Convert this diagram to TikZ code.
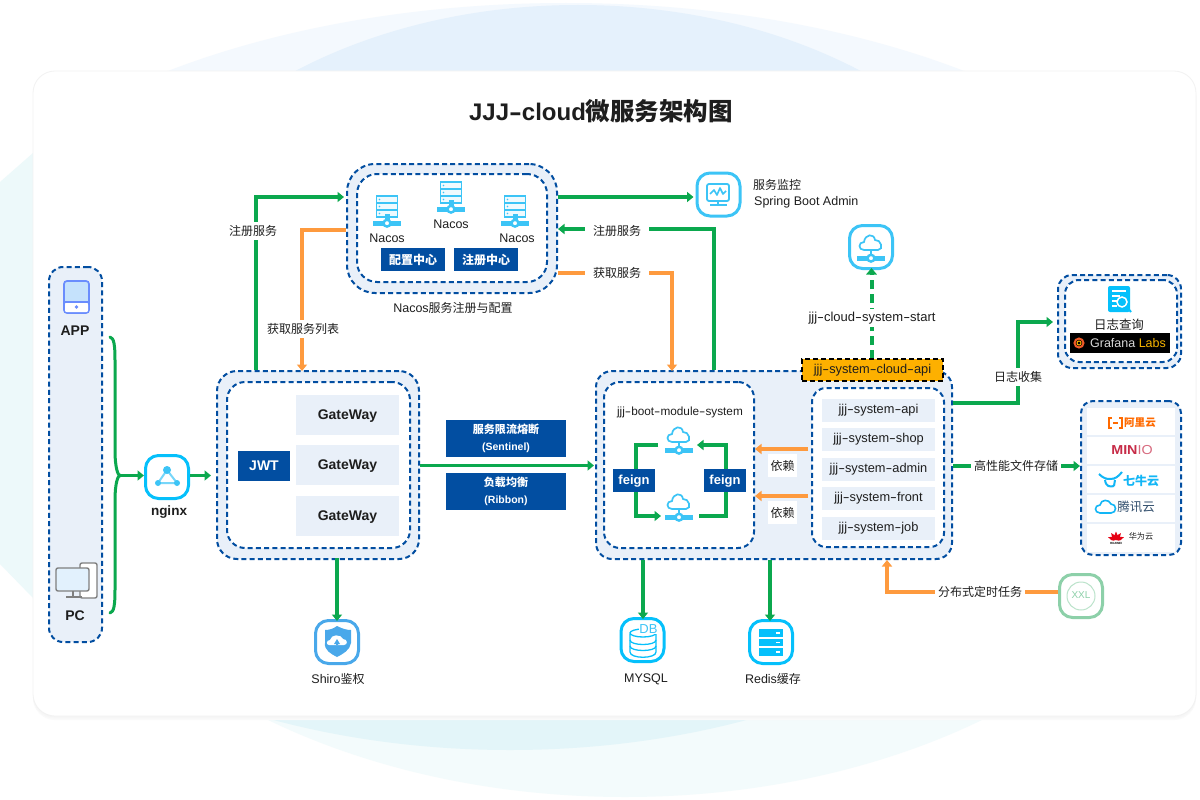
\documentclass[tikz,border=0pt]{standalone}
\usepackage{fontspec}
\setmainfont{Liberation Sans}
\newfontfamily\cjk[Scale=0.96]{Noto Sans CJK SC}
\usetikzlibrary{arrows.meta,calc}
\definecolor{dashblue}{HTML}{024EA1}
\definecolor{panelbg}{HTML}{E9F0F9}
\definecolor{flowgreen}{HTML}{0BA84E}
\definecolor{floworange}{HTML}{FE9A3E}
\definecolor{iconblue}{HTML}{3CC4F6}
\definecolor{iconcyan}{HTML}{05C0FB}
\definecolor{inktext}{HTML}{1E1E1E}
\definecolor{xxlgreen}{HTML}{8DD0A9}
\definecolor{bgleft}{HTML}{EDF9FA}
\definecolor{bgtopA}{HTML}{F4F9FE}
\definecolor{bgtopB}{HTML}{E5F1FC}
\definecolor{bgbotA}{HTML}{F3FBFC}
\definecolor{bgbotB}{HTML}{E3F5F9}
\definecolor{shieldblue}{HTML}{49A8EA}
\definecolor{aliorange}{HTML}{FF6A00}
\definecolor{minired}{HTML}{C72C48}
\definecolor{qiniublue}{HTML}{12B6F6}
\definecolor{txgray}{HTML}{33506E}
\definecolor{hwred}{HTML}{E60012}
\definecolor{tabletline}{HTML}{6A8DFD}
\definecolor{tabletfill}{HTML}{C5E2FC}
\definecolor{pcgray}{HTML}{7F7F7F}
\definecolor{pcfill}{HTML}{E2F1FD}
\definecolor{tagfill}{HTML}{FDB000}
\definecolor{labsgold}{HTML}{F7B500}
\definecolor{gforange}{HTML}{F05A28}
\newcommand{\hy}{\scalebox{1.6}[1]{-}}
\newcommand{\sz}[1]{\fontsize{#1}{#1}\selectfont}
% name, x1,y1,x2,y2, style, text
\newcommand{\bx}[7]{%
  \pgfmathsetmacro{\bxw}{#4-#2}\pgfmathsetmacro{\bxh}{#5-#3}%
  \pgfmathsetmacro{\bxx}{(#2+#4)/2}\pgfmathsetmacro{\bxy}{(#3+#5)/2}%
  \node[#6,minimum width=\bxw pt,minimum height=\bxh pt] (#1) at (\bxx,\bxy) {#7};}
\newcommand{\cloudnet}[2]{\begin{scope}[shift={(#1,#2)}]
  \draw[iconblue,line width=1.7pt,fill=white] (-7,7) .. controls (-13,7) and (-13,-1) .. (-7,-1) .. controls (-6,-9) and (3,-10) .. (4,-3) .. controls (10,-4) and (13,7) .. (7,7) -- cycle;
  \draw[iconblue,line width=1.7pt] (0,7) -- (0,14);
  \fill[iconblue] (-14,13) rectangle (14,17.5);
  \draw[iconblue,line width=2.4pt,fill=white] (0,15.2) circle[radius=3.4pt];
\end{scope}}
\newcommand{\rack}[2]{\begin{scope}[shift={(#1,#2)}]
  \foreach \r in {0,7,14}{\draw[iconblue,line width=1.2pt,fill=iconblue!8] (-10.5,\r) rectangle (10.5,\r+7);
    \fill[iconblue] (-7.5,\r+3.5) circle[radius=.8pt];}
  \fill[iconblue] (-2.5,18) rectangle (2.5,24);
  \fill[iconblue] (-14,25) rectangle (14,29.5);
  \draw[iconblue,line width=2.4pt,fill=white] (0,27.2) circle[radius=3.4pt];
\end{scope}}
\tikzset{
  x=1pt,y=-1pt,
  panelbox/.style={draw=dashblue,line width=2pt,dash pattern=on 5pt off 3.2pt,fill=panelbg,inner sep=0pt,rounded corners=#1},
  innerbox/.style={panelbox=#1,fill=white},
  lightbox/.style={fill=panelbg,inner sep=0pt,text=inktext,font=\sz{12.8}},
  gatebox/.style={lightbox,font=\bfseries\sz{14},text height=9pt,text depth=0pt},
  feignbox/.style={bluebox,font=\bfseries\sz{13},text height=7pt,text depth=0pt},
  bluebox/.style={fill=dashblue,inner sep=0pt,text=white,font=\bfseries\sz{13}},
  whitebox/.style={fill=white,inner sep=0pt,text=inktext,font=\sz{12.5}},
  iconbox/.style={draw=#1,line width=3pt,rounded corners=13pt,fill=white,inner sep=0pt,minimum size=43pt},
  txt/.style={inner sep=0pt,text=inktext,font=\sz{12.5}},
  lab/.style={fill=white,inner sep=3pt,text=inktext,font=\sz{12.5}},
  garrow/.style={draw=flowgreen,line width=3.8pt,-{Triangle[length=6.5pt,width=10pt]}},
  oarrow/.style={draw=floworange,line width=3.8pt,-{Triangle[length=6.5pt,width=10pt]}},
  thinG/.style={draw=flowgreen,line width=3pt},
  thinGA/.style={draw=flowgreen,line width=3.5pt,-{Triangle[length=6.5pt,width=10pt]}},
  thinOA/.style={draw=floworange,line width=3.5pt,-{Triangle[length=6.5pt,width=10pt]}},
}
\begin{document}
\begin{tikzpicture}
\useasboundingbox (0,0) rectangle (1200,800);
\fill[white] (0,0) rectangle (1200,800);
% background shapes
\fill[bgleft] (0,182) -- (33,153) -- (33,598) -- (0,564) -- cycle;
\begin{scope}
  \clip (0,0) rectangle (1200,80);
  \fill[bgtopA] (566,330) ellipse[x radius=652pt,y radius=327pt];
  \fill[bgtopB] (578,330) ellipse[x radius=468pt,y radius=325pt];
\end{scope}
\begin{scope}
  \clip (0,700) rectangle (1200,800);
  \fill[bgbotA] (625,400) ellipse[x radius=603pt,y radius=397pt];
  \fill[bgbotB] (510,400) ellipse[x radius=583pt,y radius=350pt];
\end{scope}
% card
\foreach \o/\c in {4/2,2.5/3,1/4}{\fill[black!\c,rounded corners=22pt] (33,71+\o) rectangle (1196,716+\o);}
\fill[white,draw=black!5,line width=.8pt,rounded corners=22pt] (33,71) rectangle (1196,716);
\node[txt,font=\bfseries\sz{24}] (title) at (601,111) {JJJ\hy cloud{\cjk\sz{25.5}微服务架构图}};

% panels
\bx{client}{49}{267}{102}{642}{panelbox=14pt}{}
\bx{gwO}{217}{371}{419}{559}{panelbox=20pt}{}
\bx{gwI}{227}{382}{410}{548}{innerbox=18pt}{}
\bx{nacosO}{347}{164}{557}{293}{panelbox=28pt}{}
\bx{nacosI}{357}{174}{547}{282}{innerbox=20pt}{}
\bx{svcO}{596}{371}{952}{559}{panelbox=16pt}{}
\bx{bootI}{604}{382}{754}{548}{innerbox=16pt}{}
\bx{apiI}{812}{388}{944}{547}{innerbox=14pt}{}
\bx{logO}{1058}{275}{1181}{368}{panelbox=14pt}{}
\bx{logI}{1065}{280}{1177}{362}{innerbox=14pt}{}
\bx{storeO}{1081}{401}{1181}{555}{panelbox=12pt}{}

% guide coordinates for connector positions
\coordinate (vReg) at (256,0);
\coordinate (hReg) at (0,197);
\coordinate (vGet) at (302,0);
\coordinate (hGet) at (0,230);
\coordinate (hMon) at (0,197);
\coordinate (vSvcReg) at (714,0);
\coordinate (hSvcReg) at (0,229);
\coordinate (vSvcGet) at (672,0);
\coordinate (hSvcGet) at (0,273);
\coordinate (hMain) at (0,465.5);
\coordinate (vMysql) at (643,0);
\coordinate (vRedis) at (770,0);
\coordinate (vShiro) at (337,0);
\coordinate (vJob) at (887,0);
\coordinate (hJob) at (0,592);
\coordinate (hLogS) at (0,403);
\coordinate (vLogM) at (1018,0);
\coordinate (hLogE) at (0,322);
\coordinate (hStore) at (0,466);
\coordinate (vStart) at (871.5,0);
\coordinate (hNg) at (0,475.5);
\coordinate (appEnd) at (110,337);
\coordinate (pcEnd) at (110,613);
\coordinate (joint) at (120,475.5);

% icon boxes
\node[iconbox=iconcyan] (nginx) at (167,477) {};
\node[iconbox=iconblue] (monitor) at (718.5,194.5) {};
\node[iconbox=iconblue] (startbox) at (871,247) {};
\node[iconbox=shieldblue] (shiro) at (337,642) {};
\node[iconbox=iconcyan] (mysql) at (642.5,640) {};
\node[iconbox=iconcyan] (redis) at (771,642) {};
\node[iconbox=xxlgreen] (xxl) at (1081,596) {};

% connectors
\draw[thinG,line cap=round] (appEnd) .. controls (114,338) and (115,345) .. (115,360) -- (115,450) .. controls (115,468) and (118,475.5) .. (joint);
\draw[thinG,line cap=round] (pcEnd) .. controls (114,612) and (115,605) .. (115,590) -- (115,500) .. controls (115,483) and (118,475.5) .. (joint);
\draw[garrow] (joint) -- (nginx.west |- hNg);
\draw[garrow] (nginx.east |- hNg) -- ([xshift=-5pt]gwO.west |- hNg);
\draw[garrow] (vReg |- gwO.north) |- ([xshift=-2pt]nacosO.west |- hReg);
\draw[oarrow] (nacosO.west |- hGet) -| ([yshift=-1pt]vGet |- gwO.north);
\draw[garrow] (nacosO.east |- hMon) -- ([xshift=-2pt]monitor.west |- hMon);
\draw[garrow] (vSvcReg |- svcO.north) |- (nacosO.east |- hSvcReg);
\draw[oarrow] (nacosO.east |- hSvcGet) -| ([yshift=-1pt]vSvcGet |- svcO.north);
\draw[garrow] (gwO.east |- hMain) -- ([xshift=-1pt]svcO.west |- hMain);
\draw[garrow] ([yshift=2pt]vShiro |- gwO.south) -- ([yshift=-2pt]vShiro |- shiro.north);
\draw[garrow] (vMysql |- svcO.south) -- ([yshift=-2pt]vMysql |- mysql.north);
\draw[garrow] (vRedis |- svcO.south) -- ([yshift=-2pt]vRedis |- redis.north);
\draw[oarrow] (xxl.west |- hJob) -| (vJob |- svcO.south);
\draw[garrow] (svcO.east |- hLogS) -| (vLogM |- hLogE) -- ([xshift=-4pt]logO.west |- hLogE);
\draw[garrow] (svcO.east |- hStore) -- (storeO.west |- hStore);
\draw[draw=flowgreen,line width=4pt,dash pattern=on 9pt off 5pt,-{Triangle[length=6.5pt,width=10.5pt]}] (vStart |- 0,359) -- ([yshift=2pt]vStart |- startbox.south);
\coordinate (bootL) at (658,445);
\coordinate (bootR) at (699,516);
\draw[thinGA] (bootL) -| (636,516) -- (661,516);
\draw[thinGA] (bootR) -| (726,445) -- (697,445);
\draw[thinOA] (apiI.west |- 0,449) ++(-3,0) -- (bootI.east |- 0,449);
\draw[thinOA] (apiI.west |- 0,496) ++(-3,0) -- (bootI.east |- 0,496);

% connector labels
\node[lab] (lReg) at (253,231) {\cjk 注册服务};
\node[lab] (lGet) at (303,329) {\cjk 获取服务列表};
\node[lab,inner xsep=8pt] (lReg2) at (617,231) {\cjk 注册服务};
\node[lab,inner xsep=8pt] (lGet2) at (617,273) {\cjk 获取服务};
\node[lab] (lLog) at (1018,377) {\cjk 日志收集};
\node[lab] (lStore) at (1016,466) {\cjk 高性能文件存储};
\node[lab] (lJob) at (980,592) {\cjk 分布式定时任务};
\node[lab,font=\sz{13}] (lStart) at (872,318) {jjj\hy cloud\hy system\hy start};
\bx{dep1}{768}{454}{797}{477}{whitebox}{\cjk 依赖}
\bx{dep2}{768}{501}{797}{524}{whitebox}{\cjk 依赖}

% left client icons
\draw[draw=tabletline,line width=1.7pt,fill=tabletfill,rounded corners=3pt] (64,281) rectangle (89,313);
\fill[white,rounded corners=2pt] (65,302.7) rectangle (88,312.2);
\draw[tabletline,line width=1.3pt] (64,302) -- (89,302);
\fill[tabletline] (76.5,307) circle[radius=1.9pt];
\node[txt,font=\bfseries\sz{14}] (app) at (75,331) {APP};
\draw[pcgray,line width=1.4pt,fill=white,rounded corners=2pt] (80,563) rectangle (97,598);
\draw[pcgray,line width=1.4pt,fill=pcfill,rounded corners=2pt] (56,568) rectangle (89,591);
\draw[pcgray,line width=1.6pt] (73,591) -- (73,596) (66,597) -- (82,597);
\node[txt,font=\bfseries\sz{14}] (pc) at (75,616) {PC};

% nginx icon
\draw[iconblue!70,line width=2pt] (167,470) -- (158,483) -- (177,483) -- cycle;
\fill[iconblue] (167,470) circle[radius=4pt] (158,483) circle[radius=3pt] (177,483) circle[radius=3pt];
\node[txt,font=\bfseries\sz{13.5}] (nginxL) at (169,512) {nginx};

% gateway panel
\bx{gw1}{296}{395}{399}{435}{gatebox}{GateWay}
\bx{gw2}{296}{445}{399}{485}{gatebox}{GateWay}
\bx{gw3}{296}{496}{399}{536}{gatebox}{GateWay}
\bx{jwt}{238}{451}{290}{481}{bluebox,font=\bfseries\sz{14}}{JWT}

% main flow labels
\bx{sent}{446}{420}{566}{457}{bluebox,font=\bfseries\sz{10.5},align=center}{{\cjk\sz{11.5}服务限流熔断}\\[6pt](Sentinel)}
\bx{ribb}{446}{473}{566}{510}{bluebox,font=\bfseries\sz{10.5},align=center}{{\cjk\sz{11.5}负载均衡}\\[6pt](Ribbon)}

% shiro icon
\fill[shieldblue] (337,626) .. controls (343,629) and (347,630) .. (351,630) -- (351,643) .. controls (350,650) and (343,654) .. (337,657) .. controls (331,654) and (324,650) .. (325,643) -- (325,630) .. controls (329,630) and (333,629) .. (337,626) -- cycle;
\fill[white] (329,645) .. controls (326,645) and (326,640) .. (330,640) .. controls (331,634) and (341,634) .. (343,639) .. controls (348,639) and (348,645) .. (344,645) -- cycle;
\fill[shieldblue] (337,639) -- (340,644) -- (338,644) -- (338,645) -- (336,645) -- (336,644) -- (334,644) -- cycle;
\node[txt] (shiroL) at (338,679) {Shiro{\cjk 鉴权}};

% nacos panel
\rack{387}{196}\rack{451}{182}\rack{515}{196}
\node[txt] (nacos1) at (387,238) {Nacos};
\node[txt] (nacos2) at (451,224) {Nacos};
\node[txt] (nacos3) at (517,238) {Nacos};
\bx{cfg}{381}{248}{445}{271}{bluebox,font=\bfseries\sz{12.5}}{\cjk 配置中心}
\bx{reg}{454}{248}{518}{271}{bluebox,font=\bfseries\sz{12.5}}{\cjk 注册中心}
\node[txt] (nacosL) at (453,308) {Nacos{\cjk 服务注册与配置}};

% monitor icon
\draw[iconblue,line width=1.8pt,rounded corners=2pt] (707,184) rectangle (729,201);
\draw[iconblue,line width=1.6pt,line join=round] (710,194) -- (714,190) -- (717,195) -- (720,188) -- (723,194) -- (726,191);
\draw[iconblue,line width=1.8pt] (718,201) -- (718,205) (710,205) -- (727,205);
\node[txt,anchor=west] (monL1) at (753,185) {\cjk 服务监控};
\node[txt,anchor=west] (monL2) at (754,202) {Spring Boot Admin};

% start icon + tag
\cloudnet{871}{243}
\bx{tag}{802}{359}{943}{381}{draw=black,line width=1.8pt,dash pattern=on 5pt off 3pt,fill=tagfill,inner sep=0pt,text=inktext,font=\sz{12.8}}{jjj\hy system\hy cloud\hy api}

% boot module
\node[txt,font=\sz{11.8}] (bootL1) at (680,412) {jjj\hy boot\hy module\hy system};
\cloudnet{679}{435}\cloudnet{679}{502}
\bx{fg1}{613}{469}{655}{492}{feignbox}{feign}
\bx{fg2}{704}{469}{746}{492}{feignbox}{feign}

% api modules
\bx{m1}{822}{399}{935}{422}{lightbox}{jjj\hy system\hy api}
\bx{m2}{822}{428}{935}{451}{lightbox}{jjj\hy system\hy shop}
\bx{m3}{822}{458}{935}{481}{lightbox}{jjj\hy system\hy admin}
\bx{m4}{822}{487}{935}{510}{lightbox}{jjj\hy system\hy front}
\bx{m5}{822}{517}{935}{540}{lightbox}{jjj\hy system\hy job}

% DB icon
\draw[iconcyan,line width=1.3pt] (630,634) -- (630,652) .. controls (630,659) and (656,659) .. (656,652) -- (656,634);
\draw[iconcyan,line width=1.3pt] (643,633) ellipse[x radius=13pt,y radius=4pt];
\draw[iconcyan,line width=1.3pt] (630,640) .. controls (630,646) and (656,646) .. (656,640) (630,646) .. controls (630,652) and (656,652) .. (656,646);
\node[fill=white,inner sep=.5pt,text=iconblue,font=\sz{13}] (dbL) at (648.5,629.5) {DB};
\node[txt] (mysqlL) at (646,679) {MYSQL};

% redis icon
\foreach \y in {629,638.5,648}{\fill[iconcyan] (759,\y) rectangle (783,\y+7.5);\fill[white] (775.5,\y+3) rectangle (780,\y+4.5);}
\node[txt] (redisL) at (773,679) {Redis{\cjk 缓存}};

% xxl icon
\draw[xxlgreen!60,line width=1pt] (1081,596) circle[radius=14pt];
\node[inner sep=0pt,text=xxlgreen,font=\rmfamily\sz{10}] (xxlL) at (1081,595.5) {XXL};

% log panel contents
\fill[iconcyan,rounded corners=2pt] (1108,286) rectangle (1130,312);
\draw[white,line width=1.3pt] (1112,291) -- (1126,291) (1112,296) -- (1120,296) (1112,301) -- (1117,301) (1112,306) -- (1117,306);
\draw[white,line width=1.5pt,fill=iconcyan] (1122,302) circle[radius=5pt];
\draw[iconcyan,line width=2pt] (1126,306) -- (1131,312);
\node[txt,font=\sz{13}] (logL) at (1119,325) {\cjk 日志查询};
\bx{grafana}{1070}{333}{1170}{353}{fill=black,inner sep=0pt,text=white,font=\sz{12.5}}{\hspace*{16pt}{\color{black!15}Grafana} {\color{labsgold}Labs}}
\draw[gforange,line width=2pt] (1079,343) circle[radius=4.5pt];
\draw[labsgold,line width=1pt] (1079,343) circle[radius=2pt];

% storage rows
\bx{row1}{1087}{408}{1175}{435}{whitebox}{}
\bx{row2}{1087}{437}{1175}{464}{whitebox}{}
\bx{row3}{1087}{466}{1175}{493}{whitebox}{}
\bx{row4}{1087}{495}{1175}{522}{whitebox}{}
\bx{row5}{1087}{524}{1175}{552}{whitebox}{}
\draw[aliorange,line width=1.6pt] (1112,418) -- (1109,418) -- (1109,428) -- (1112,428) (1119,418) -- (1122,418) -- (1122,428) -- (1119,428) (1113,423) -- (1118,423);
\node[inner sep=0pt,text=aliorange,font=\bfseries\sz{11}] (ali) at (1140,423) {\cjk 阿里云};
\node[inner sep=0pt,text=minired,font=\sz{13},xscale=1.1] (minio) at (1132,450) {\textbf{MIN}\textcolor{minired!70}{IO}};
\draw[qiniublue,line width=2pt,line join=round] (1099,474) .. controls (1103,478) and (1106,479) .. (1110,479) .. controls (1115,479) and (1118,477) .. (1122,472) (1105,480) .. controls (1106,487) and (1110,487) .. (1114,486) (1115,480) -- (1114,486);
\node[inner sep=0pt,text=qiniublue,font=\bfseries\sz{12.5}] (qiniu) at (1141,481) {\cjk 七牛云};
\draw[qiniublue,line width=1.6pt] (1100,513) .. controls (1094,513) and (1094,505) .. (1100,505) .. controls (1101,499) and (1109,499) .. (1111,504) .. controls (1117,504) and (1117,513) .. (1111,513) -- cycle;
\node[inner sep=0pt,text=txgray,font=\sz{13}] (tx) at (1136,507) {\cjk 腾讯云};
\begin{scope}[shift={(1116,540)}]
  \foreach \a in {-70,-35,0,35,70}{\fill[hwred,rotate=\a] (0,0) .. controls (-3,-3) and (-1.5,-6) .. (0,-8.5) .. controls (1.5,-6) and (3,-3) .. (0,0);}
\end{scope}
\node[inner sep=0pt,text=black,font=\bfseries\sz{3}] (hwL) at (1116,543) {HUAWEI};
\node[inner sep=0pt,text=inktext,font=\sz{8.5}] (hw) at (1141,536) {\cjk 华为云};
\end{tikzpicture}
\end{document}
